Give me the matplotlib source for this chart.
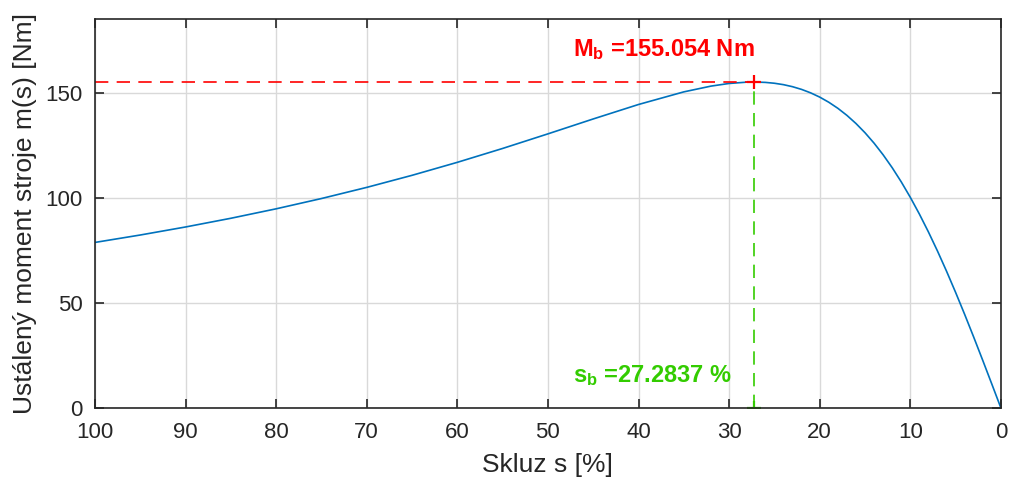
import numpy as np
import matplotlib.pyplot as plt

plt.rcParams['font.family'] = ['Liberation Sans', 'DejaVu Sans']
plt.rcParams['mathtext.fontset'] = 'custom'
plt.rcParams['mathtext.rm'] = 'Liberation Sans'
plt.rcParams['mathtext.bf'] = 'Liberation Sans:bold'

# slip [%] and steady-state torque [Nm]
slip = [100, 95, 90, 85, 80, 75, 70, 65, 60, 55, 50, 45, 40, 35, 32, 30, 28,
        27.2837, 26, 25, 24, 23, 22, 21, 20, 19, 18, 17, 16, 15, 14, 13, 12,
        11, 10, 9, 8, 7, 6, 5, 4, 3, 2, 1, 0]
torque = [78.75, 82.28, 86.10, 90.24, 94.74, 99.63, 104.93, 110.67, 116.85,
          123.45, 130.39, 137.48, 144.36, 150.36, 153.10, 154.36, 155.00,
          155.054, 154.87, 154.46, 153.79, 152.82, 151.53, 149.89, 147.87,
          145.43, 142.55, 139.19, 135.32, 130.92, 125.96, 120.42, 114.29,
          107.55, 100.20, 92.26, 83.73, 74.65, 65.05, 54.98, 44.51, 33.69,
          22.61, 11.35, 0.0]

s_b = 27.2837
M_b = 155.054

fig = plt.figure(figsize=(10.10, 4.82), dpi=100)
ax = fig.add_axes([0.094, 0.1535, 0.897, 0.807])

ax.plot(slip, torque, color='#0072BD', lw=1.2)
ax.plot([100, s_b], [M_b, M_b], color='#ff0000', ls=(0, (8, 5)), lw=1.2)
ax.plot([s_b, s_b], [0, M_b], color='#33cc00', ls=(0, (8, 5)), lw=1.2)
ax.plot([s_b], [M_b], marker='+', color='#ff0000', ms=10, mew=1.6)
ax.plot([s_b], [0], marker='+', color='#33cc00', ms=10, mew=1.6)

ax.text(s_b + 20, 1.1 * M_b, r'$\mathbf{M_b}$ =155.054 Nm', color='#ff0000',
        fontsize=17, fontweight='bold', va='center', ha='left')
ax.text(s_b + 20, 0.1 * M_b, r'$\mathbf{s_b}$ =27.2837 %', color='#33cc00',
        fontsize=17, fontweight='bold', va='center', ha='left')

ax.set_xlim(100, 0)
ax.set_ylim(0, 185)
ax.set_xticks(np.arange(100, -1, -10))
ax.set_yticks([0, 50, 100, 150])
ax.grid(True, color='#d9d9d9', lw=1)
ax.set_axisbelow(True)
ax.tick_params(direction='in', top=True, right=True, length=6.5, width=1.2,
               labelsize=16, colors='#262626')
ax.tick_params(axis='x', pad=10)
ax.tick_params(axis='y', pad=9)
for sp in ax.spines.values():
    sp.set_color('#262626')
    sp.set_linewidth(1.2)

ax.set_xlabel('Skluz s [%]', fontsize=19, color='#262626', labelpad=7)
ax.set_ylabel('Ustálený moment stroje m(s) [Nm]', fontsize=19,
              color='#262626', labelpad=6)

fig.savefig('out.png', dpi=100)
